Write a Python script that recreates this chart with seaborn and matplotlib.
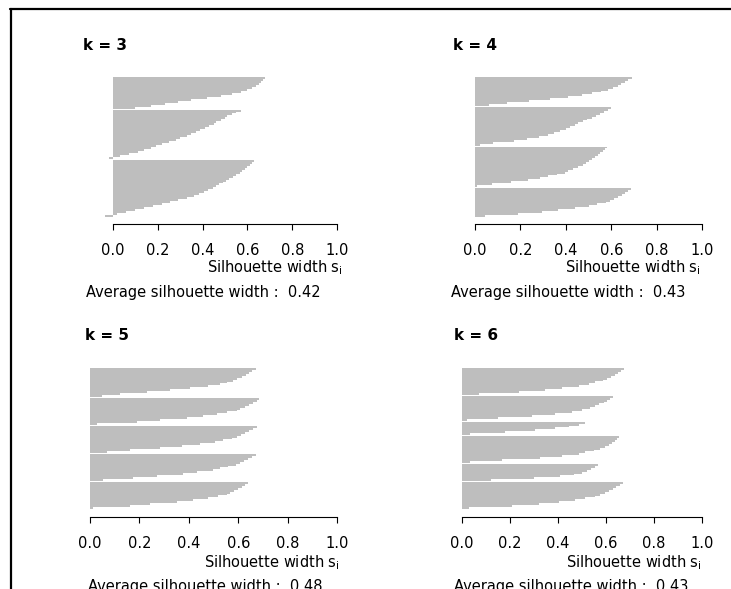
import numpy as np
import pandas as pd
import seaborn as sns
import matplotlib.pyplot as plt
from matplotlib.lines import Line2D

# silhouette widths, one list per cluster (sorted, largest first)
sil_k3 = [
    [.68, .67, .66, .65, .64, .62, .60, .57, .53, .48, .42, .35, .29, .23, .17, .10],
    [.57, .55, .53, .51, .50, .48, .46, .45, .43, .41, .39, .37, .35, .33, .30, .28,
     .25, .22, .19, .17, .14, .11, .07, .03, -.02],
    [.63, .62, .61, .60, .59, .575, .565, .55, .535, .52, .505, .49, .475, .46, .445,
     .425, .405, .385, .36, .33, .29, .255, .22, .18, .14, .10, .06, .02, -.035],
]
sil_k4 = [
    [.69, .675, .66, .645, .63, .61, .585, .555, .515, .47, .41, .33, .24, .14, .06],
    [.60, .585, .57, .55, .535, .515, .495, .475, .455, .44, .42, .40, .375, .35, .32,
     .28, .23, .17, .08, .02],
    [.58, .573, .562, .551, .54, .528, .514, .502, .489, .476, .454, .432, .41, .396,
     .36, .32, .286, .234, .16, .073, .01],
    [.686, .672, .661, .646, .631, .614, .595, .576, .536, .50, .44, .366, .294, .19, .044],
]
sil_k5 = [
    [.671, .657, .644, .63, .614, .596, .58, .553, .526, .479, .405, .324, .23, .12, .05],
    [.686, .675, .659, .642, .626, .607, .594, .553, .513, .459, .391, .283, .189, .03],
    [.675, .661, .645, .629, .613, .594, .574, .54, .506, .445, .371, .283, .162, .07],
    [.671, .657, .641, .623, .607, .591, .56, .526, .499, .432, .378, .27, .175, .054],
    [.641, .628, .614, .60, .583, .567, .553, .52, .479, .418, .351, .243, .162, .013],
]
sil_k6 = [
    [.676, .664, .65, .639, .622, .604, .586, .556, .528, .486, .417, .347, .236, .069],
    [.631, .617, .606, .59, .569, .553, .535, .50, .458, .389, .292, .15, .02],
    [.511, .486, .444, .389, .306, .181, .035],
    [.656, .646, .636, .625, .611, .594, .576, .549, .514, .486, .417, .326, .167, .035],
    [.565, .553, .539, .521, .50, .465, .41, .30, .12],
    [.669, .657, .643, .629, .614, .594, .576, .556, .514, .472, .403, .319, .208, .028],
]
ks = [3, 4, 5, 6]
avg_widths = [0.42, 0.43, 0.48, 0.43]
tick_vals = [0.0, 0.2, 0.4, 0.6, 0.8, 1.0]
tick_labels = ['0.0', '0.2', '0.4', '0.6', '0.8', '1.0']

W, H = 731, 589
# pixel layout: x of 0, x of 1, bar top, bar bottom, axis line, title x, title y,
# xlab right, xlab y, average-text x, average-text y
layout = [
    (113, 337, 77, 217, 224, 83, 45, 343, 268, 86, 292),
    (475, 702, 77, 217, 224, 453, 45, 701, 268, 451, 292),
    (90, 337, 368, 509, 517, 85, 335, 340, 563, 88, 586),
    (462, 702, 368, 509, 517, 454, 335, 702, 563, 454, 586),
]

sns.set_style('white')
plt.rcParams['font.family'] = ['DejaVu Sans']
plt.rcParams['text.color'] = 'black'


def silhouette_frame(clusters, gap=0.5):
    rows = []
    pos = 0.0
    for ci, vals in enumerate(clusters):
        for v in vals:
            rows.append((pos + 0.5, v, ci + 1))
            pos += 1
        pos += gap
    return pd.DataFrame(rows, columns=['pos', 's', 'cluster']), pos - gap


fig = plt.figure(figsize=(W / 100, H / 100), dpi=100)

for clusters, k, avg, lay in zip([sil_k3, sil_k4, sil_k5, sil_k6], ks, avg_widths, layout):
    px0, px1, top, bot, axy, tx, ty, lx, ly, ax_x, ax_y = lay
    df, total = silhouette_frame(clusters)
    scale = px1 - px0
    xlo = -0.06
    left = px0 + xlo * scale
    unit = (bot - top) / total
    ax = fig.add_axes([left / W, 1 - axy / H, (px1 - left) / W, (axy - top) / H])
    sns.barplot(data=df, x='s', y='pos', orient='y', native_scale=True,
                color='#bebebe', saturation=1, width=1, errorbar=None,
                linewidth=0, ax=ax)
    ax.set_xlim(xlo, 1.0)
    ax.set_ylim(total + (axy - bot) / unit, 0)
    ax.set_yticks([])
    ax.set_xlabel('')
    ax.set_ylabel('')
    for side in ['top', 'right', 'left']:
        ax.spines[side].set_visible(False)
    ax.spines['bottom'].set_bounds(0, 1)
    ax.spines['bottom'].set_color('black')
    ax.spines['bottom'].set_linewidth(0.8)
    ax.set_xticks(tick_vals, labels=tick_labels)
    ax.tick_params(axis='x', direction='out', length=4.5, width=0.8, color='black',
                   bottom=True, pad=9, labelsize=10.5, labelcolor='black')
    ax.patch.set_alpha(0)

    fig.text(tx / W, 1 - ty / H, f'k = {k}', fontsize=11, fontweight='bold',
             ha='left', va='center')
    fig.text(lx / W, 1 - ly / H, 'Silhouette width $\\mathregular{s_i}$',
             fontsize=10.5, ha='right', va='center')
    fig.text(ax_x / W, 1 - ax_y / H, f'Average silhouette width :  {avg:.2f}',
             fontsize=10.5, ha='left', va='center')

# frame lines at top and left
fig.add_artist(Line2D([10 / W, 1], [1 - 8.5 / H, 1 - 8.5 / H], color='black',
                      linewidth=1.6, transform=fig.transFigure))
fig.add_artist(Line2D([10.5 / W, 10.5 / W], [0, 1 - 8.5 / H], color='black',
                      linewidth=1.6, transform=fig.transFigure))

fig.savefig('out.png', dpi=100)
